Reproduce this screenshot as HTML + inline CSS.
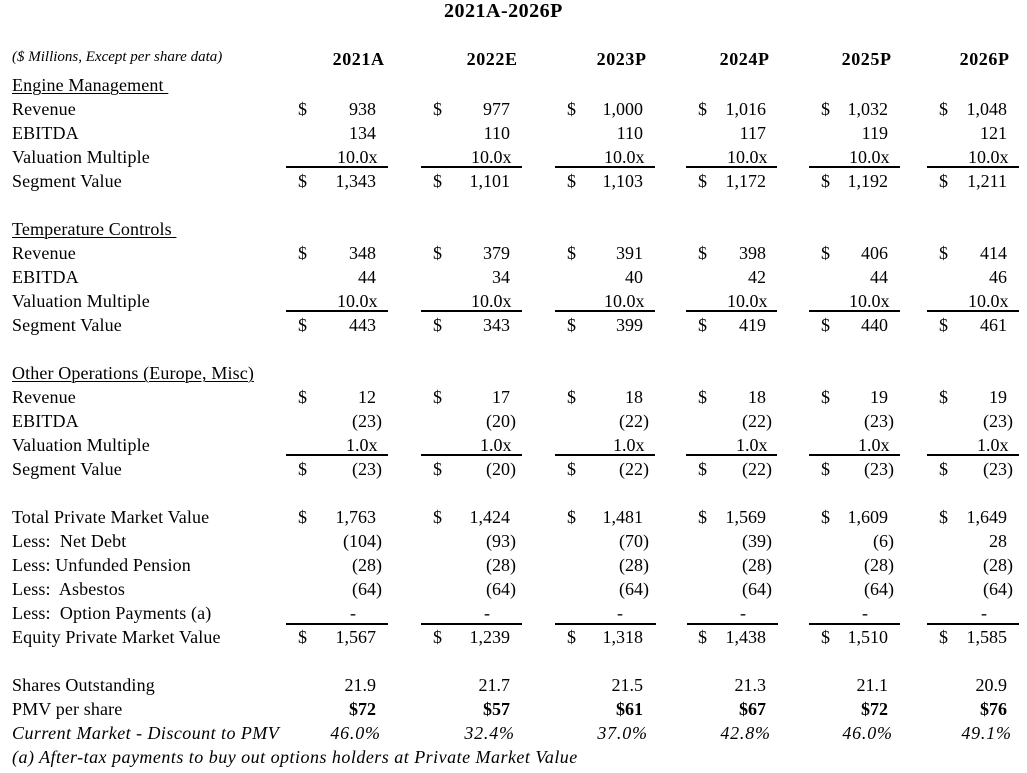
<!DOCTYPE html>
<html><head><meta charset="utf-8">
<style>
html,body{margin:0;padding:0;background:#fff;}
body{width:1027px;height:773px;position:relative;overflow:hidden;font:18px/24px "Liberation Serif","Times New Roman",serif;color:#000;}
.row{position:absolute;left:0;width:1027px;height:24px;}
.row>span{position:absolute;top:0;white-space:pre;}
.lab{left:12px;letter-spacing:0.13px;}
.u{text-decoration:underline;text-decoration-thickness:1px;text-underline-offset:2px;}
.d1{left:298px}.d2{left:433px}.d3{left:567px}.d4{left:698px}.d5{left:821px}.d6{left:939px}
.n1{right:651px}.n2{right:517px}.n3{right:384px}.n4{right:261px}.n5{right:139px}.n6{right:20px}
.p1{right:645px}.p2{right:511px}.p3{right:378px}.p4{right:255px}.p5{right:133px}.p6{right:14px}
.m1{right:649.5px}.m2{right:515.5px}.m3{right:382.5px}.m4{right:259.5px}.m5{right:137.5px}.m6{right:18.5px}
.z1{right:671px}.z2{right:537px}.z3{right:404px}.z4{right:281px}.z5{right:159px}.z6{right:40px}
.q{letter-spacing:0.8px;}
.q1{right:646.2px}.q2{right:512.2px}.q3{right:379.2px}.q4{right:256.2px}.q5{right:134.2px}.q6{right:15.2px}
.hd>span{letter-spacing:0.6px;}
.h1{right:642.4px}.h2{right:509.4px}.h3{right:380.4px}.h4{right:257.4px}.h5{right:135.4px}.h6{right:17.4px}
.b{font-weight:bold;}
.i{font-style:italic;}
.it{letter-spacing:0.45px;}
.ln{position:absolute;height:2px;background:#000;}
</style></head><body>

<div style="position:absolute;top:-1px;left:444px;font:bold 20px/24px 'Liberation Serif',serif;white-space:pre;letter-spacing:0.5px;">2021A-2026P</div>

<div class="row" style="top:45px"><span class="lab i" style="font-size:15px;letter-spacing:0;">($ Millions, Except per share data)</span></div>
<div class="row b hd" style="top:47px"><span class="h1">2021A</span><span class="h2">2022E</span><span class="h3">2023P</span><span class="h4">2024P</span><span class="h5">2025P</span><span class="h6">2026P</span></div>

<!-- Engine Management -->
<div class="row" style="top:73px"><span class="lab u">Engine Management </span></div>
<div class="row" style="top:97px"><span class="lab">Revenue</span>
<span class="d1">$</span><span class="n1">938</span><span class="d2">$</span><span class="n2">977</span><span class="d3">$</span><span class="n3">1,000</span><span class="d4">$</span><span class="n4">1,016</span><span class="d5">$</span><span class="n5">1,032</span><span class="d6">$</span><span class="n6">1,048</span></div>
<div class="row" style="top:121px"><span class="lab">EBITDA</span>
<span class="n1">134</span><span class="n2">110</span><span class="n3">110</span><span class="n4">117</span><span class="n5">119</span><span class="n6">121</span></div>
<div class="row" style="top:145px"><span class="lab">Valuation Multiple</span>
<span class="m1">10.0x</span><span class="m2">10.0x</span><span class="m3">10.0x</span><span class="m4">10.0x</span><span class="m5">10.0x</span><span class="m6">10.0x</span></div>
<div class="ln" style="top:166px;left:286px;width:102px"></div>
<div class="ln" style="top:166px;left:421px;width:101px"></div>
<div class="ln" style="top:166px;left:555px;width:100px"></div>
<div class="ln" style="top:166px;left:686px;width:91px"></div>
<div class="ln" style="top:166px;left:809px;width:91px"></div>
<div class="ln" style="top:166px;left:927px;width:92px"></div>
<div class="row" style="top:169px"><span class="lab">Segment Value</span>
<span class="d1">$</span><span class="n1">1,343</span><span class="d2">$</span><span class="n2">1,101</span><span class="d3">$</span><span class="n3">1,103</span><span class="d4">$</span><span class="n4">1,172</span><span class="d5">$</span><span class="n5">1,192</span><span class="d6">$</span><span class="n6">1,211</span></div>

<!-- Temperature Controls -->
<div class="row" style="top:217px"><span class="lab u">Temperature Controls </span></div>
<div class="row" style="top:241px"><span class="lab">Revenue</span>
<span class="d1">$</span><span class="n1">348</span><span class="d2">$</span><span class="n2">379</span><span class="d3">$</span><span class="n3">391</span><span class="d4">$</span><span class="n4">398</span><span class="d5">$</span><span class="n5">406</span><span class="d6">$</span><span class="n6">414</span></div>
<div class="row" style="top:265px"><span class="lab">EBITDA</span>
<span class="n1">44</span><span class="n2">34</span><span class="n3">40</span><span class="n4">42</span><span class="n5">44</span><span class="n6">46</span></div>
<div class="row" style="top:289px"><span class="lab">Valuation Multiple</span>
<span class="m1">10.0x</span><span class="m2">10.0x</span><span class="m3">10.0x</span><span class="m4">10.0x</span><span class="m5">10.0x</span><span class="m6">10.0x</span></div>
<div class="ln" style="top:310px;left:286px;width:102px"></div>
<div class="ln" style="top:310px;left:421px;width:101px"></div>
<div class="ln" style="top:310px;left:555px;width:100px"></div>
<div class="ln" style="top:310px;left:686px;width:91px"></div>
<div class="ln" style="top:310px;left:809px;width:91px"></div>
<div class="ln" style="top:310px;left:927px;width:92px"></div>
<div class="row" style="top:313px"><span class="lab">Segment Value</span>
<span class="d1">$</span><span class="n1">443</span><span class="d2">$</span><span class="n2">343</span><span class="d3">$</span><span class="n3">399</span><span class="d4">$</span><span class="n4">419</span><span class="d5">$</span><span class="n5">440</span><span class="d6">$</span><span class="n6">461</span></div>

<!-- Other Operations -->
<div class="row" style="top:361px"><span class="lab u">Other Operations (Europe, Misc)</span></div>
<div class="row" style="top:385px"><span class="lab">Revenue</span>
<span class="d1">$</span><span class="n1">12</span><span class="d2">$</span><span class="n2">17</span><span class="d3">$</span><span class="n3">18</span><span class="d4">$</span><span class="n4">18</span><span class="d5">$</span><span class="n5">19</span><span class="d6">$</span><span class="n6">19</span></div>
<div class="row" style="top:409px"><span class="lab">EBITDA</span>
<span class="p1">(23)</span><span class="p2">(20)</span><span class="p3">(22)</span><span class="p4">(22)</span><span class="p5">(23)</span><span class="p6">(23)</span></div>
<div class="row" style="top:433px"><span class="lab">Valuation Multiple</span>
<span class="m1">1.0x</span><span class="m2">1.0x</span><span class="m3">1.0x</span><span class="m4">1.0x</span><span class="m5">1.0x</span><span class="m6">1.0x</span></div>
<div class="ln" style="top:454px;left:286px;width:102px"></div>
<div class="ln" style="top:454px;left:421px;width:101px"></div>
<div class="ln" style="top:454px;left:555px;width:100px"></div>
<div class="ln" style="top:454px;left:686px;width:91px"></div>
<div class="ln" style="top:454px;left:809px;width:91px"></div>
<div class="ln" style="top:454px;left:927px;width:92px"></div>
<div class="row" style="top:457px"><span class="lab">Segment Value</span>
<span class="d1">$</span><span class="p1">(23)</span><span class="d2">$</span><span class="p2">(20)</span><span class="d3">$</span><span class="p3">(22)</span><span class="d4">$</span><span class="p4">(22)</span><span class="d5">$</span><span class="p5">(23)</span><span class="d6">$</span><span class="p6">(23)</span></div>

<!-- Totals -->
<div class="row" style="top:505px"><span class="lab">Total Private Market Value</span>
<span class="d1">$</span><span class="n1">1,763</span><span class="d2">$</span><span class="n2">1,424</span><span class="d3">$</span><span class="n3">1,481</span><span class="d4">$</span><span class="n4">1,569</span><span class="d5">$</span><span class="n5">1,609</span><span class="d6">$</span><span class="n6">1,649</span></div>
<div class="row" style="top:529px"><span class="lab">Less:&nbsp; Net Debt</span>
<span class="p1">(104)</span><span class="p2">(93)</span><span class="p3">(70)</span><span class="p4">(39)</span><span class="p5">(6)</span><span class="n6">28</span></div>
<div class="row" style="top:553px"><span class="lab">Less: Unfunded Pension</span>
<span class="p1">(28)</span><span class="p2">(28)</span><span class="p3">(28)</span><span class="p4">(28)</span><span class="p5">(28)</span><span class="p6">(28)</span></div>
<div class="row" style="top:577px"><span class="lab">Less:&nbsp; Asbestos</span>
<span class="p1">(64)</span><span class="p2">(64)</span><span class="p3">(64)</span><span class="p4">(64)</span><span class="p5">(64)</span><span class="p6">(64)</span></div>
<div class="row" style="top:601px"><span class="lab">Less:&nbsp; Option Payments (a)</span>
<span class="z1">-</span><span class="z2">-</span><span class="z3">-</span><span class="z4">-</span><span class="z5">-</span><span class="z6">-</span></div>
<div class="ln" style="top:623px;left:286px;width:102px"></div>
<div class="ln" style="top:623px;left:421px;width:101px"></div>
<div class="ln" style="top:623px;left:555px;width:101px"></div>
<div class="ln" style="top:623px;left:687px;width:91px"></div>
<div class="ln" style="top:623px;left:809px;width:91px"></div>
<div class="ln" style="top:623px;left:927px;width:92px"></div>
<div class="row" style="top:625px"><span class="lab">Equity Private Market Value</span>
<span class="d1">$</span><span class="n1">1,567</span><span class="d2">$</span><span class="n2">1,239</span><span class="d3">$</span><span class="n3">1,318</span><span class="d4">$</span><span class="n4">1,438</span><span class="d5">$</span><span class="n5">1,510</span><span class="d6">$</span><span class="n6">1,585</span></div>

<!-- Per share -->
<div class="row" style="top:673px"><span class="lab">Shares Outstanding</span>
<span class="n1">21.9</span><span class="n2">21.7</span><span class="n3">21.5</span><span class="n4">21.3</span><span class="n5">21.1</span><span class="n6">20.9</span></div>
<div class="row" style="top:697px"><span class="lab">PMV per share</span>
<span class="n1 b">$72</span><span class="n2 b">$57</span><span class="n3 b">$61</span><span class="n4 b">$67</span><span class="n5 b">$72</span><span class="n6 b">$76</span></div>
<div class="row i" style="top:721px"><span class="lab it">Current Market - Discount to PMV</span>
<span class="q q1">46.0%</span><span class="q q2">32.4%</span><span class="q q3">37.0%</span><span class="q q4">42.8%</span><span class="q q5">46.0%</span><span class="q q6">49.1%</span></div>
<div class="row i" style="top:745px"><span class="lab it" style="letter-spacing:0.48px;">(a) After-tax payments to buy out options holders at Private Market Value</span></div>

</body></html>
